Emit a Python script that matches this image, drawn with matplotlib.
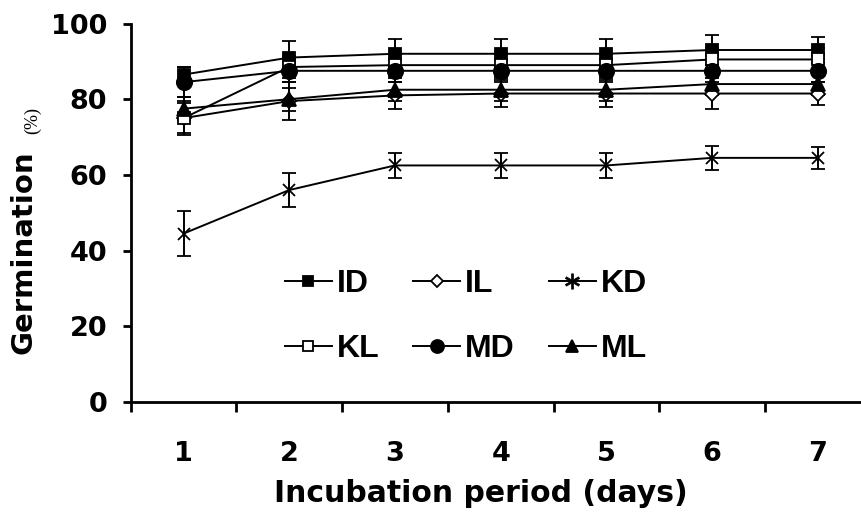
import numpy as np
import matplotlib.pyplot as plt
from matplotlib.lines import Line2D
from matplotlib.font_manager import FontProperties

days = [1, 2, 3, 4, 5, 6, 7]
series_names = ["ID", "IL", "KD", "KL", "MD", "ML"]

ID = [86.5, 91, 92, 92, 92, 93, 93]
IL = [75, 79.5, 81, 81.5, 81.5, 81.5, 81.5]
KD = [44.5, 56, 62.5, 62.5, 62.5, 64.5, 64.5]
KL = [75, 88.5, 89, 89, 89, 90.5, 90.5]
MD = [84.5, 87.5, 87.5, 87.5, 87.5, 87.5, 87.5]
ML = [77.5, 80, 82.5, 82.5, 82.5, 84, 84]

ID_err = [2, 4.5, 4, 4, 4, 4, 3.5]
IL_err = [4, 5, 3.5, 3.5, 3.5, 4, 3]
KD_err = [6, 4.5, 3.3, 3.3, 3.3, 3.2, 3]
KL_err = [4.5, 3, 3, 3, 3, 3, 3]
MD_err = [4, 3, 3, 3, 3, 3, 3]
ML_err = [3, 3, 3, 3, 3, 3, 3]

values = [ID, IL, KD, KL, MD, ML]
errors = [ID_err, IL_err, KD_err, KL_err, MD_err, ML_err]

styles = {
    "ID": dict(marker="s", mfc="black", ms=9),
    "IL": dict(marker="D", mfc="white", ms=7.5),
    "KD": dict(marker="x", mfc="black", ms=8),
    "KL": dict(marker="s", mfc="white", ms=9),
    "MD": dict(marker="o", mfc="black", ms=11),
    "ML": dict(marker="^", mfc="black", ms=10),
}

plt.rcParams['font.family'] = ['DejaVu Sans']

fig = plt.figure(figsize=(8.62, 5.15), dpi=100)
ax = fig.add_axes([130.7 / 862, 113 / 515, 740 / 862, 378.5 / 515])

for name, y, e in zip(series_names, values, errors):
    st = styles[name]
    ax.errorbar(days, y, yerr=e, color="black", lw=1.4, elinewidth=1.4,
                capsize=5, capthick=1.8, marker=st["marker"], ms=st["ms"],
                mfc=st["mfc"], mec="black", mew=1.3, clip_on=False, zorder=3)
    if name == "KD":
        ax.plot(days, y, ls="none", marker="|", ms=8, mec="black", mew=1.3,
                zorder=4)

ax.set_xlim(0.5, 7.5)
ax.set_ylim(0, 100)
ax.set_yticks([0, 20, 40, 60, 80, 100])
ax.set_xticks(days)
ax.set_xticks(np.arange(0.5, 8, 1), minor=True)
ax.tick_params(axis="x", which="major", length=0, pad=28, labelsize=19.5)
ax.tick_params(axis="x", which="minor", length=7, width=2, direction="out")
ax.tick_params(axis="y", length=6, width=2, direction="out", pad=11,
               labelsize=19.5)
for lab in ax.get_xticklabels() + ax.get_yticklabels():
    lab.set_fontweight("bold")

for s in ["top", "right"]:
    ax.spines[s].set_visible(False)
for s in ["left", "bottom"]:
    ax.spines[s].set_linewidth(2)

ax.set_xlabel("Incubation period (days)", fontsize=21.5, fontweight="bold",
              va="center")
ax.xaxis.set_label_coords((481 - 130.7) / 740, (402 - 493) / 378.5)
fig.text(24 / 862, 1 - 252 / 515, "Germination", rotation=90, fontsize=21,
         fontweight="bold", ha="center", va="center")
fig.text(33 / 862, 1 - 120 / 515, "(%)", rotation=90, fontsize=13,
         family="Liberation Serif", ha="center", va="center")

handles = []
for name in ["ID", "KL", "IL", "MD", "KD", "ML"]:
    st = styles[name]
    if name == "KD":
        h = Line2D([], [], color="black", lw=1.4, marker="$\\ast$", ms=11,
                   mfc="black", mec="black", mew=0.5)
    else:
        h = Line2D([], [], color="black", lw=1.4, marker=st["marker"],
                   ms=st["ms"] * 0.85, mfc=st["mfc"], mec="black", mew=1.3)
    handles.append((h, name))
leg_font = FontProperties(family="Liberation Sans", weight="bold", size=23)
leg = ax.legend([h for h, _ in handles], [n for _, n in handles], ncol=3,
                loc="upper left", bbox_to_anchor=(285 / 862, 1 - 269 / 515),
                bbox_transform=fig.transFigure, frameon=False, prop=leg_font,
                handlelength=1.47, handletextpad=0.16, columnspacing=1.05,
                labelspacing=1.1, borderpad=0, borderaxespad=0)

fig.savefig("out.png", dpi=100)
